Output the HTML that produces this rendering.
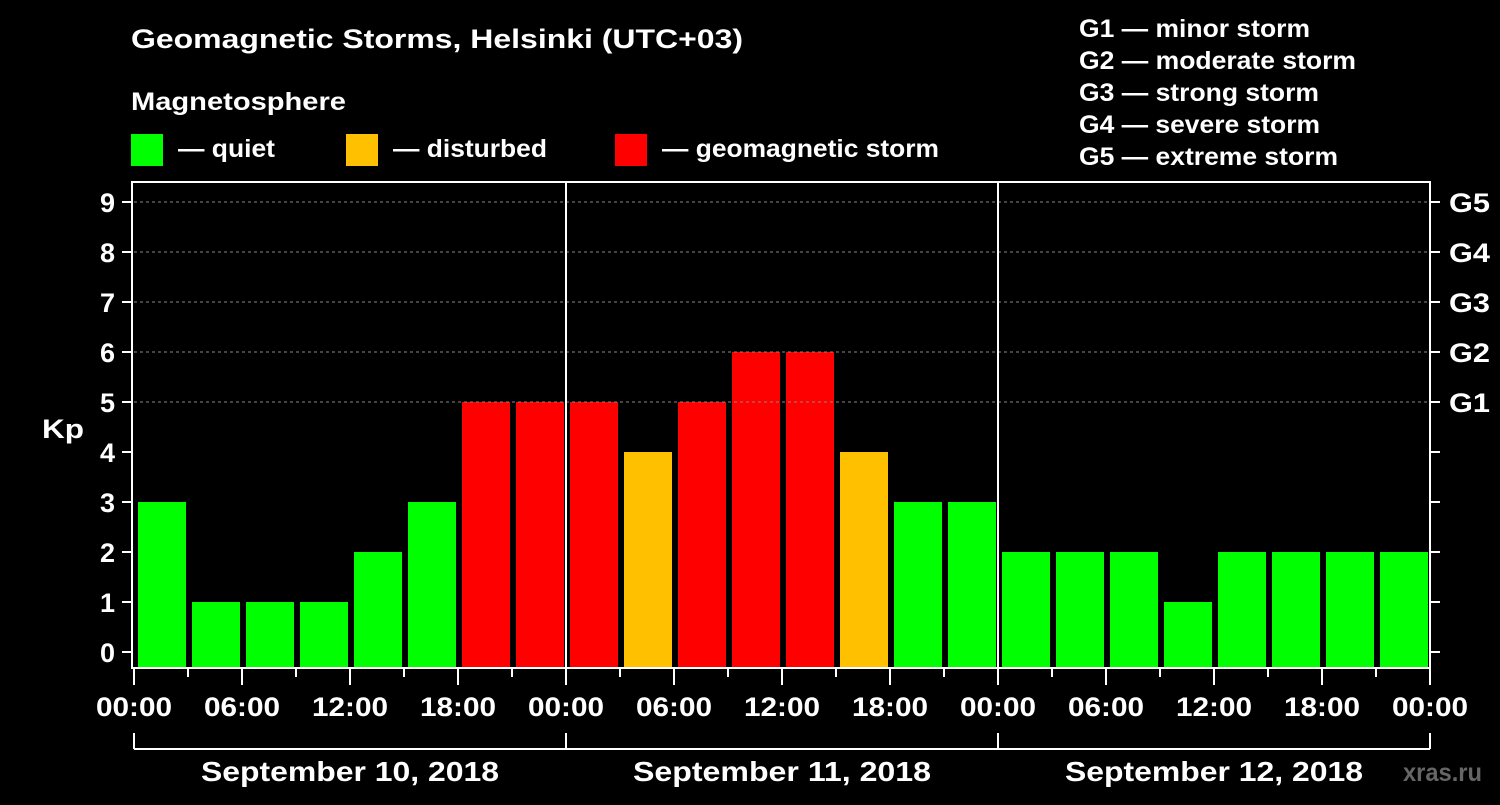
<!DOCTYPE html>
<html><head><meta charset="utf-8"><style>
body{margin:0;background:#000;}
svg text{font-family:"Liberation Sans",Arial,sans-serif;font-weight:bold;fill:#fff;}
</style></head><body>
<svg width="1500" height="800" viewBox="0 0 1500 800">
<rect width="1500" height="800" fill="#000"/>
<g id="chrome"></g>
<g id="bars"></g>
<g id="axes"></g>
</svg>
<script>
const kpValues = [3,1,1,1,2,3,5,5, 5,4,5,6,6,4,3,3, 2,2,2,1,2,2,2,2];
const yTicks = [0,1,2,3,4,5,6,7,8,9];
const gLabels = ["G1","G2","G3","G4","G5"];
const xLabels = ["00:00","06:00","12:00","18:00","00:00","06:00","12:00","18:00","00:00","06:00","12:00","18:00","00:00"];
const dayLabels = ["September 10, 2018","September 11, 2018","September 12, 2018"];
const legendStorm = ["G1 — minor storm","G2 — moderate storm","G3 — strong storm","G4 — severe storm","G5 — extreme storm"];
const legendStormW = [231,277,240,241,259];

const NS="http://www.w3.org/2000/svg";
const X0=134, X1=1430, TOP=182, BOT=668;
const slot=(X1-X0)/kpValues.length;
const xs=i=>X0+i*slot;
const ys=v=>652-v*50;
function mk(tag,attrs,parent,txt){const e=document.createElementNS(NS,tag);for(const k in attrs)e.setAttribute(k,attrs[k]);if(txt!==undefined)e.textContent=txt;parent.appendChild(e);return e;}
function tl(e,w){e.setAttribute('textLength',w);e.setAttribute('lengthAdjust','spacingAndGlyphs');}
const chrome=document.getElementById('chrome'),bars=document.getElementById('bars'),axes=document.getElementById('axes');

let t=mk('text',{x:131,y:48,'font-size':27},chrome,"Geomagnetic Storms, Helsinki (UTC+03)");
tl(t,612);


t=mk('text',{x:131,y:110,'font-size':25},chrome,"Magnetosphere");
tl(t,215);


const leg=[["#00ff00","— quiet",131,97],["#ffc000","— disturbed",346,154],["#ff0000","— geomagnetic storm",615,277]];
leg.forEach((l,i)=>{
 const g=mk('g',{},chrome);
 
 
 mk('rect',{x:l[2],y:134,width:32,height:32,fill:l[0]},g);
 const e=mk('text',{x:l[2]+47,y:157,'font-size':25},g,l[1]);
 tl(e,l[3]);
});
legendStorm.forEach((s,i)=>{
 const e=mk('text',{x:1079,y:37+i*32,'font-size':25},chrome,s);
 tl(e,legendStormW[i]);
 
 
});

for(let v=5;v<=9;v++){
 const l=mk('line',{x1:X0,x2:X1,y1:ys(v),y2:ys(v),stroke:'#888','stroke-dasharray':'3,3','stroke-width':1},axes);
 
 
}
kpValues.forEach((v,i)=>{
 const c=v>=5?'#ff0000':(v>=4?'#ffc000':'#00ff00');
 const r=mk('rect',{x:xs(i)+4,y:ys(v),width:slot-6,height:BOT-1-ys(v),fill:c},bars);
 
 
});
let f=mk('rect',{x:132,y:TOP,width:X1-132,height:BOT-TOP,fill:'none',stroke:'#fff','stroke-width':2},axes);


[1,2].forEach(d=>{const l=mk('line',{x1:xs(d*8),x2:xs(d*8),y1:TOP,y2:BOT,stroke:'#fff','stroke-width':2},axes);
 
 });
yTicks.forEach(v=>{
 mk('line',{x1:122,x2:132,y1:ys(v),y2:ys(v),stroke:'#fff','stroke-width':2},axes);
 mk('line',{x1:X1,x2:X1+10,y1:ys(v),y2:ys(v),stroke:'#fff','stroke-width':2},axes);
 const e=mk('text',{x:115,y:ys(v)+10,'font-size':27,'text-anchor':'end'},axes,v);
 
 
});
gLabels.forEach((g,i)=>{
 const e=mk('text',{x:1449,y:ys(i+5)+10,'font-size':27},axes,g);
 tl(e,41);
 
 
});
t=mk('text',{x:42,y:438,'font-size':27},axes,"Kp");
tl(t,42);


for(let i=0;i<=kpValues.length;i++){
 const x=xs(i);
 mk('line',{x1:x,x2:x,y1:BOT,y2:i%2==0?685:677,stroke:'#fff','stroke-width':2},axes);
}
xLabels.forEach((s,i)=>{
 const e=mk('text',{x:xs(i*2)-38,y:716,'font-size':27},axes,s);
 tl(e,76);
 
 
});
mk('line',{x1:X0,x2:X1,y1:749,y2:749,stroke:'#fff','stroke-width':2},axes);
for(let d=0;d<=3;d++)mk('line',{x1:xs(d*8),x2:xs(d*8),y1:733,y2:749,stroke:'#fff','stroke-width':2},axes);
dayLabels.forEach((s,d)=>{
 const e=mk('text',{x:xs(d*8+4)-149,y:781,'font-size':28},axes,s);
 tl(e,298);
 
 
});
t=mk('text',{x:1403,y:781,'font-size':25,style:'fill:#666'},axes,"xras.ru");
tl(t,79);


</script>
</body></html>
